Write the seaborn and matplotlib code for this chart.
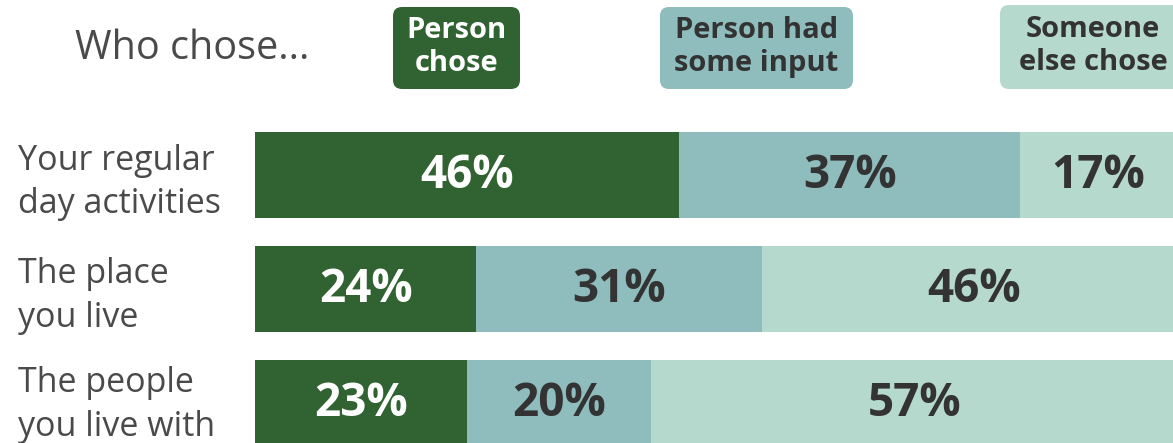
import matplotlib
matplotlib.use("Agg")
import matplotlib.pyplot as plt
import seaborn as sns
import pandas as pd
from matplotlib.patches import FancyBboxPatch
from matplotlib.transforms import blended_transform_factory, offset_copy

categories = ["Your regular\nday activities", "The place\nyou live", "The people\nyou live with"]
person_chose = [46, 24, 23]
some_input = [37, 31, 20]
someone_else = [17, 46, 57]
series_names = ["Person\nchose", "Person had\nsome input", "Someone\nelse chose"]
title_text = "Who chose..."

colors = ["#316332", "#8FBDBD", "#B5D9CC"]
text_colors = ["#FFFFFF", "#333333", "#333333"]

sns.set_theme(style="white")
plt.rcParams['font.family'] = ['Open Sans', 'DejaVu Sans']

W, H = 1173, 443
fig = plt.figure(figsize=(W / 100, H / 100), dpi=100)
fig.patch.set_facecolor("white")

ax = fig.add_axes([255 / W, 0, 1 - 255 / W, 1])

df = pd.DataFrame({
    "category": categories,
    "chose": person_chose,
    "input": some_input,
    "else": someone_else,
})
df["c1"] = df["chose"]
df["c2"] = df["chose"] + df["input"]
df["c3"] = df["chose"] + df["input"] + df["else"]

for col, c in zip(["c3", "c2", "c1"], [colors[2], colors[1], colors[0]]):
    sns.barplot(data=df, y="category", x=col, color=c, saturation=1,
                width=0.754, orient="h", ax=ax, linewidth=0, edgecolor="none")

# value labels
for i in range(len(categories)):
    start = 0
    for j, vals in enumerate([person_chose, some_input, someone_else]):
        v = vals[i]
        ax.text(start + v / 2, i, f"{v}%", ha="center", va="center",
                fontsize=33, fontweight="bold", color=text_colors[j])
        start += v

ax.set_xlim(0, (W - 255) / 9.22)
ax.set_ylim(2.351, -1.539)
ax.set_xlabel("")
ax.set_ylabel("")
ax.set_xticks([])
ax.set_yticks([])
for s in ax.spines.values():
    s.set_visible(False)

# category labels, left aligned at the figure's left margin
trans = blended_transform_factory(fig.transFigure, ax.transData)
label_dy_px = [-7, -7, -2]
for i, (lab, dy) in enumerate(zip(categories, label_dy_px)):
    ax.text(18 / W, i, lab, ha="left", va="center", fontsize=24.5,
            color="#4a4a4a", linespacing=1.36, clip_on=False,
            transform=offset_copy(trans, fig=fig, y=dy, units="dots"))

# overlay for header / legend in pixel coordinates
ov = fig.add_axes([0, 0, 1, 1])
ov.set_xlim(0, W)
ov.set_ylim(H, 0)
ov.axis("off")
ov.patch.set_alpha(0)

ov.text(75, 49, title_text, ha="left", va="center", fontsize=28.5,
        color="#4a4a4a")

boxes = [(393, 7, 520, 89), (660, 7, 853, 89), (1000, 5, 1186, 89)]
for (x0, y0, x1, y1), name, c, tc in zip(boxes, series_names, colors, text_colors):
    r = 9
    p = FancyBboxPatch((x0 + r, y0 + r), (x1 - x0) - 2 * r, (y1 - y0) - 2 * r,
                       boxstyle=f"round,pad={r}", facecolor=c, edgecolor="none",
                       clip_on=False)
    ov.add_patch(p)
    ov.text((x0 + x1) / 2, (y0 + y1) / 2 - 1, name, ha="center", va="center",
            fontsize=21, fontweight="bold", color=tc, linespacing=1.15,
            clip_on=False)

fig.savefig("out.png", dpi=100)
